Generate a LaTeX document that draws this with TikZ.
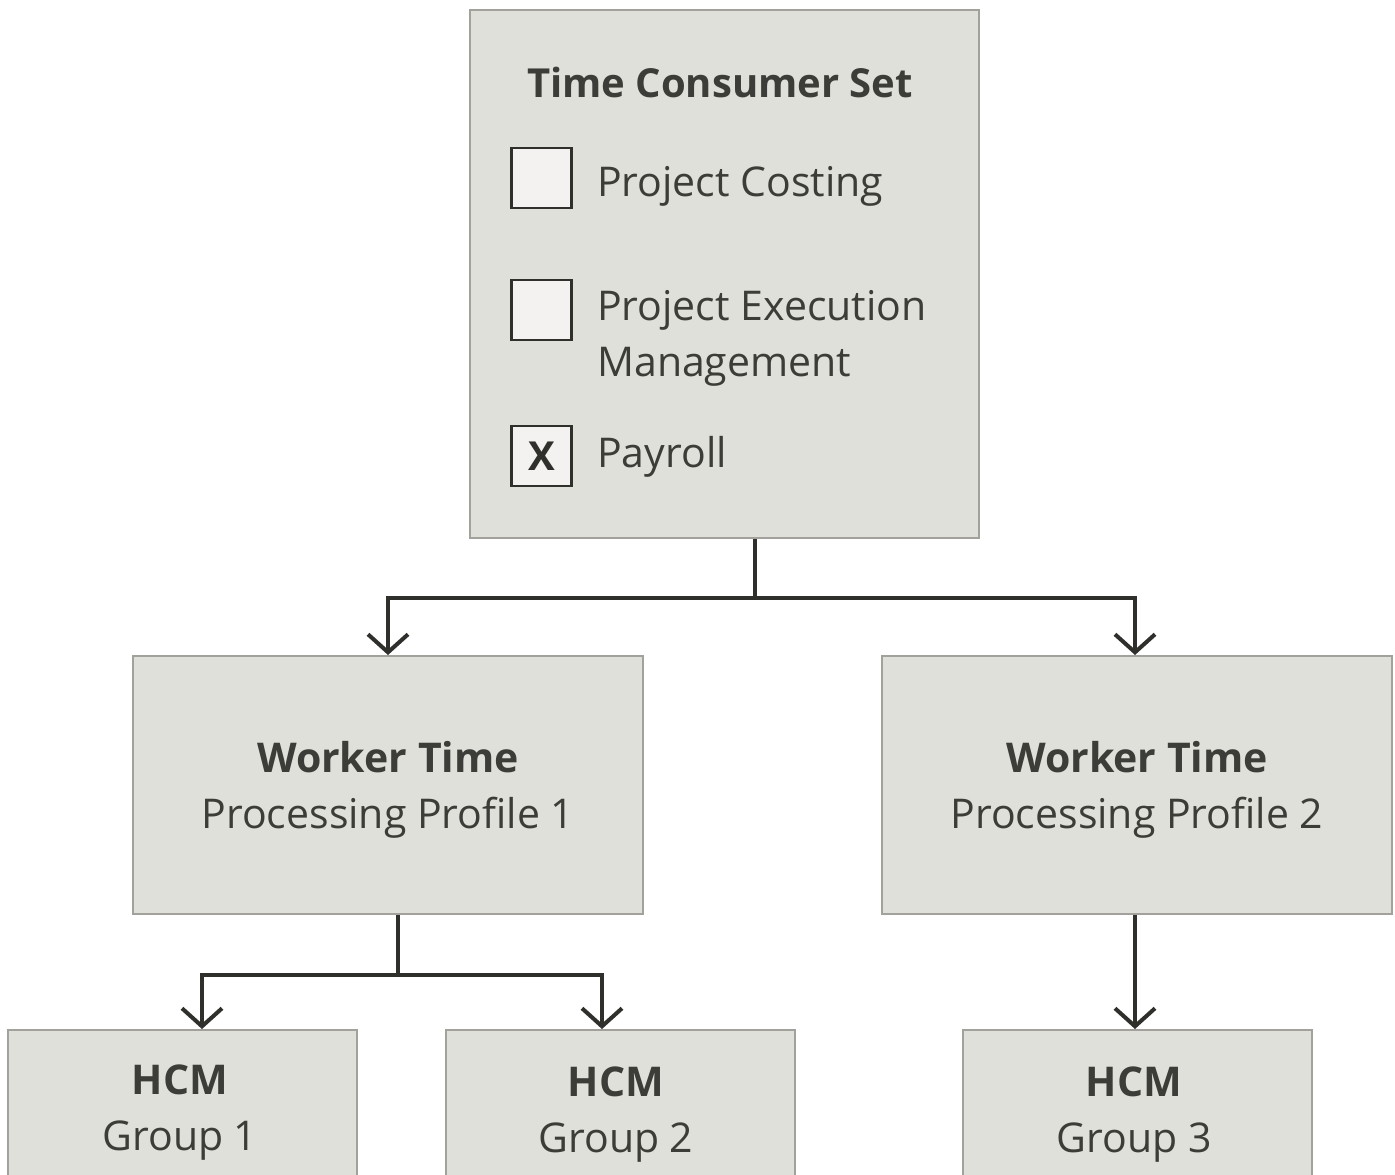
\documentclass[tikz,border=0pt]{standalone}
\usepackage{fontspec}
\setmainfont{Open Sans}
\usetikzlibrary{arrows.meta}
\definecolor{boxfill}{HTML}{E0E0DA}
\definecolor{boxline}{HTML}{A3A19B}
\definecolor{inkdark}{HTML}{2F302B}
\definecolor{textgray}{HTML}{3C3C38}
\definecolor{tickfill}{HTML}{F4F2F1}
\tikzset{
  panel/.style={draw=boxline,fill=boxfill,line width=2pt,inner sep=0pt,
    text=textgray,align=center,font=\fontsize{41}{56}\selectfont},
  tickbox/.style={draw=inkdark,fill=tickfill,line width=2.5pt,minimum size=60pt,
    inner sep=0pt,text=inkdark,font=\fontsize{40}{48}\selectfont\bfseries},
  itemtext/.style={anchor=base west,text=textgray,align=left,inner sep=0pt,
    font=\fontsize{41}{56}\selectfont},
  grptext/.style={anchor=base,text=textgray,align=center,inner sep=0pt,
    font=\fontsize{41}{56}\selectfont},
  link/.style={draw=inkdark,line width=4pt},
  flow/.style={link,-{Straight Barb[length=18pt,width=40pt]}},
}
\begin{document}
\begin{tikzpicture}[x=1pt,y=-1pt]
  \useasboundingbox (0,0) rectangle (1395,1175);
  \clip (0,0) rectangle (1395,1175);
  % consumer set
  \node (set) at (724.5,274) [panel,minimum width=509pt,minimum height=528pt] {};
  \node (title) at (720,97) [grptext,font=\fontsize{40}{56}\selectfont\bfseries] {Time Consumer Set};
  \node (box1) at (541.5,178) [tickbox] {};
  \node (box2) at (541.5,310) [tickbox] {};
  \node (box3) at (541.5,456) [tickbox] {X};
  \node (item1) at (597,196) [itemtext] {Project Costing};
  \node (item2) at (597,376) [itemtext] {Project Execution\\Management};
  \node (item3) at (597,467) [itemtext] {Payroll};
  % processing profiles
  \node (wtpp1) at (388,785) [panel,minimum width=510pt,minimum height=258pt,
    text depth=0pt] {\textbf{Worker Time}\\Processing Profile 1};
  \node (wtpp2) at (1137,785) [panel,minimum width=510pt,minimum height=258pt,
    text depth=0pt] {\textbf{Worker Time}\\Processing Profile 2};
  % groups
  \node (grp1) at (182.5,1110) [panel,minimum width=349pt,minimum height=160pt] {};
  \node (grp2) at (620.5,1110) [panel,minimum width=349pt,minimum height=160pt] {};
  \node (grp3) at (1137.5,1110) [panel,minimum width=349pt,minimum height=160pt] {};
  \node (grp1txt) at (180,1150) [grptext] {\textbf{HCM}\\Group 1};
  \node (grp2txt) at (616,1152) [grptext] {\textbf{HCM}\\Group 2};
  \node (grp3txt) at (1134,1152) [grptext] {\textbf{HCM}\\Group 3};
  % connectors
  \coordinate (split1) at (755,598);
  \coordinate (split2) at (398,975);
  \draw [link] (set.south -| split1) -- (split1);
  \draw [flow] (split1) -| (wtpp1.north);
  \draw [flow] (split1) -| ([xshift=-2pt]wtpp2.north);
  \draw [link] (wtpp1.south -| split2) -- (split2);
  \draw [flow] (split2) -| ([xshift=19.5pt]grp1.north);
  \draw [flow] (split2) -| ([xshift=-18.5pt]grp2.north);
  \draw [flow] ([xshift=-2pt]wtpp2.south) -- ([xshift=-2.5pt]grp3.north);
\end{tikzpicture}
\end{document}
